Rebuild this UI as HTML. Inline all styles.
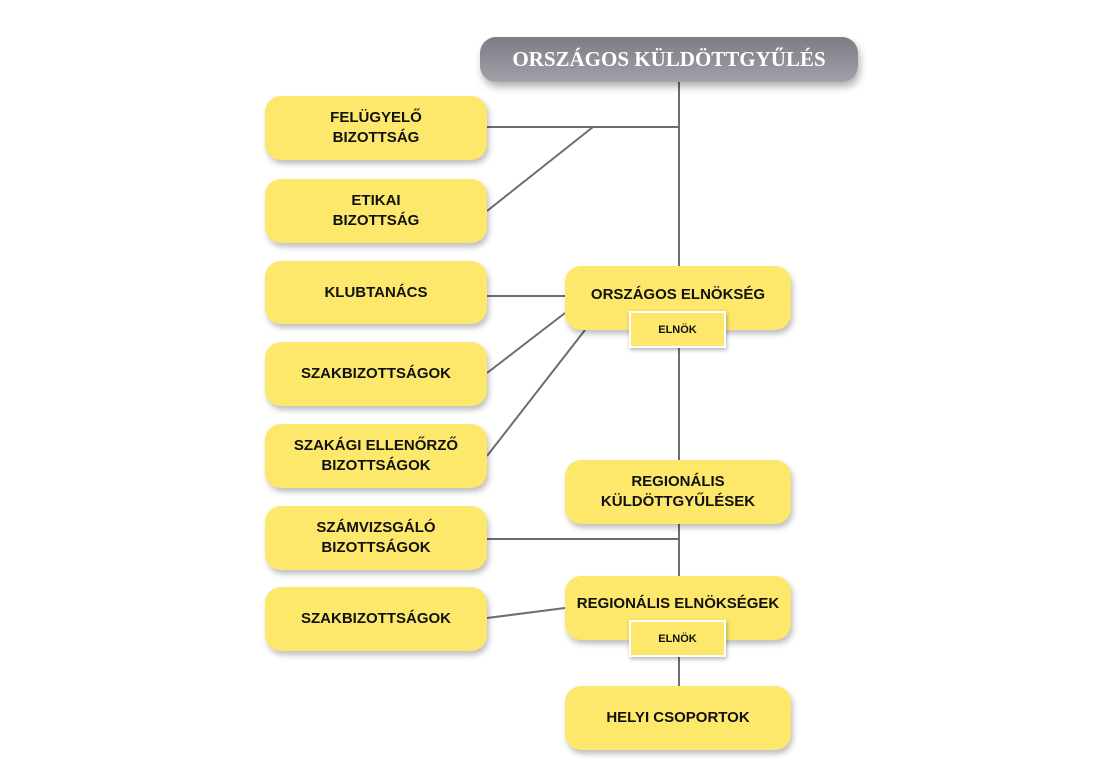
<!DOCTYPE html>
<html><head><meta charset="utf-8"><style>
body{margin:0;width:1110px;height:775px;background:#fff;position:relative;overflow:hidden;font-family:"Liberation Sans",sans-serif}
.b{position:absolute;background:#fde86b;border-radius:16px;box-shadow:2px 4px 6px rgba(0,0,0,.25);display:flex;align-items:center;justify-content:center;text-align:center;font-weight:bold;font-size:15px;line-height:20px;color:#111}
.l{left:265px;width:222px;height:64px}
.r{left:565px;width:226px;height:64px}
.e{position:absolute;left:629px;width:93px;height:33px;background:#fde86b;border:2px solid #fff;box-shadow:1px 2px 4px rgba(0,0,0,.3);display:flex;align-items:center;justify-content:center;font-weight:bold;font-size:11px;color:#111}
.top{position:absolute;left:480px;top:37px;width:378px;height:45px;border-radius:16px;background:linear-gradient(#7d7c86,#a2a1a9);box-shadow:2px 5px 8px rgba(0,0,0,.3);color:#fff;font-family:"Liberation Serif",serif;font-weight:bold;font-size:21px;display:flex;align-items:center;justify-content:center}
svg{position:absolute;left:0;top:0}
</style></head><body>
<svg width="1110" height="775"><g stroke="#6d6d72" stroke-width="2" fill="none">
<line x1="679" y1="82" x2="679" y2="266"/>
<line x1="679" y1="330" x2="679" y2="460"/>
<line x1="679" y1="524" x2="679" y2="576"/>
<line x1="679" y1="640" x2="679" y2="686"/>
<line x1="487" y1="127" x2="679" y2="127"/>
<line x1="487" y1="211" x2="593" y2="127"/>
<line x1="487" y1="296" x2="565" y2="296"/>
<line x1="487" y1="373" x2="565" y2="313"/>
<line x1="487" y1="456" x2="585" y2="330"/>
<line x1="487" y1="539" x2="679" y2="539"/>
<line x1="487" y1="618" x2="565" y2="608"/>
</g></svg>
<div class="top">ORSZÁGOS KÜLDÖTTGYŰLÉS</div>
<div class="b l" style="top:96px">FELÜGYELŐ<br>BIZOTTSÁG</div>
<div class="b l" style="top:179px">ETIKAI<br>BIZOTTSÁG</div>
<div class="b l" style="top:261px;height:63px">KLUBTANÁCS</div>
<div class="b l" style="top:342px">SZAKBIZOTTSÁGOK</div>
<div class="b l" style="top:424px">SZAKÁGI ELLENŐRZŐ<br>BIZOTTSÁGOK</div>
<div class="b l" style="top:506px">SZÁMVIZSGÁLÓ<br>BIZOTTSÁGOK</div>
<div class="b l" style="top:587px">SZAKBIZOTTSÁGOK</div>
<div class="b r" style="top:266px;align-items:flex-start;padding-top:19px;box-sizing:border-box">ORSZÁGOS ELNÖKSÉG</div>
<div class="e" style="top:311px">ELNÖK</div>
<div class="b r" style="top:460px">REGIONÁLIS<br>KÜLDÖTTGYŰLÉSEK</div>
<div class="b r" style="top:576px;align-items:flex-start;padding-top:18px;box-sizing:border-box">REGIONÁLIS ELNÖKSÉGEK</div>
<div class="e" style="top:620px">ELNÖK</div>
<div class="b r" style="top:686px">HELYI CSOPORTOK</div>
</body></html>
